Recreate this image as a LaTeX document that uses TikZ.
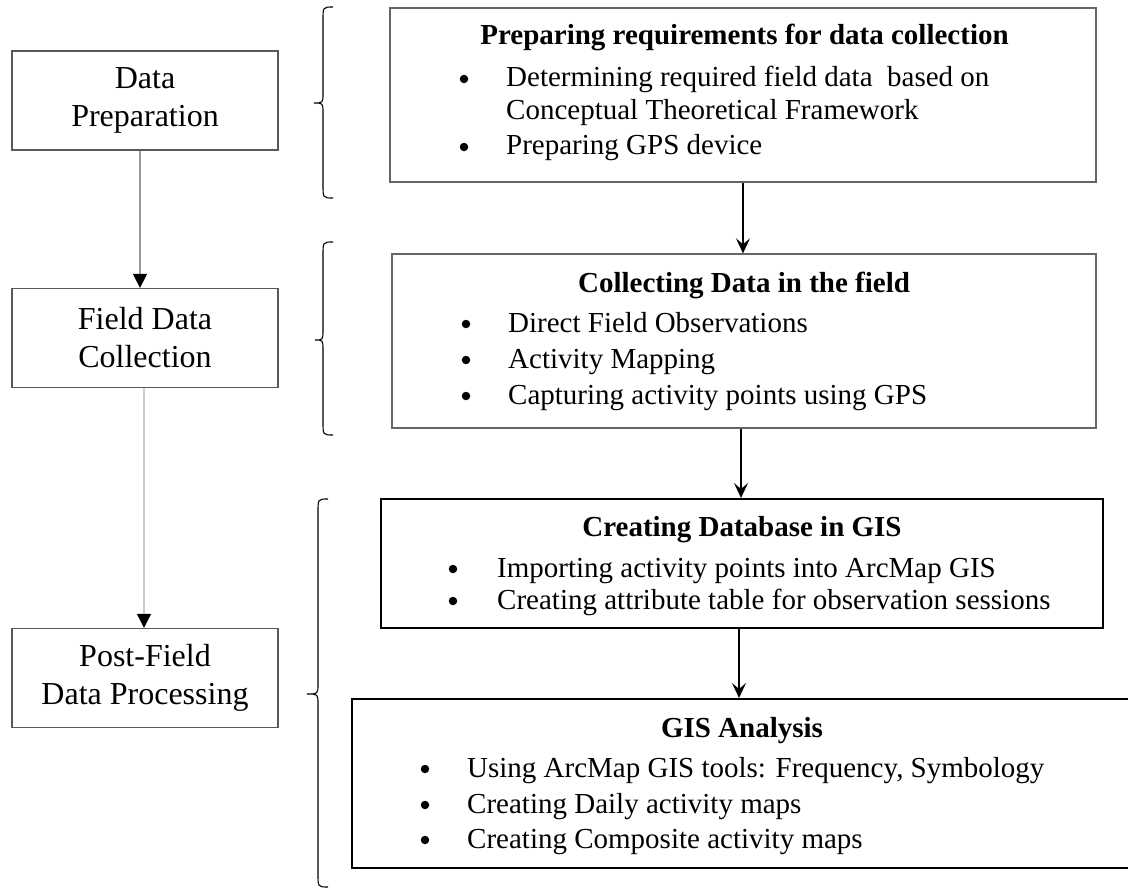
\documentclass[tikz,border=0pt]{standalone}
\usepackage{fontspec}
\setmainfont{Liberation Serif}
\usetikzlibrary{arrows.meta}
\begin{document}
\begin{tikzpicture}[x=1pt,y=-1pt,
  leftbox/.style={draw=black!65, line width=1.2pt, minimum width=266pt, minimum height=99pt,
    align=center, inner sep=0pt, font=\fontsize{32}{38}\selectfont},
  rbox/.style={draw=black!60, line width=1.3pt, inner sep=0pt},
  rboxdark/.style={draw=black, line width=2pt, inner sep=0pt},
  heading/.style={anchor=base, font=\fontsize{29}{33}\selectfont\bfseries, inner sep=0pt},
  item/.style={anchor=base west, font=\fontsize{29}{33}\selectfont, inner sep=0pt},
  dot/.style={circle, fill=black, minimum size=8.5pt, inner sep=0pt, yshift=8pt},
  flow/.style={line width=1.4pt, -{Stealth[length=15pt,width=14pt,inset=6pt]}},
  side/.style={line width=1.2pt, -{Triangle[length=14pt,width=14pt,color=black]}},
  brace/.style={line width=1.1pt}
]
\useasboundingbox (0,0) rectangle (1128,888);

% ---- stages (left column) ----
\node[leftbox] (lp)  at (145,100.5) {Data\\Preparation};
\node[leftbox] (lf)  at (145,338)   {Field Data\\Collection};
\node[leftbox] (lpf) at (145,678)   {Post-Field\\Data Processing};

\draw[side, draw=black!40] ([xshift=-5pt]lp.south) -- ([xshift=-5pt]lf.north);
\draw[side, draw=black!20] ([xshift=-1pt]lf.south) -- ([xshift=-1pt]lpf.north);

% ---- braces ----
\draw[brace] (333,7) .. controls (323,7) .. (323,20) -- (323,93)
  .. controls (323,103) .. (314,103) .. controls (323,103) .. (323,113)
  -- (323,185) .. controls (323,198) .. (333,198);
\draw[brace] (333,242) .. controls (323,242) .. (323,255) -- (323,330)
  .. controls (323,340) .. (315,340) .. controls (323,340) .. (323,350)
  -- (323,422) .. controls (323,435) .. (333,435);
\draw[brace] (328,499) .. controls (318,499) .. (318,512) -- (318,684)
  .. controls (318,694) .. (307,694) .. controls (318,694) .. (318,704)
  -- (318,874) .. controls (318,887) .. (328,887);

% ---- tasks (right column) ----
\node[rbox, minimum width=706pt, minimum height=174pt] (r1) at (743,95) {};
\node[heading] (t1) at (744.5,45) {Preparing requirements for data collection};
\node[dot] (d11) at (464,87) {};
\node[item] (i11) at (506,87) {Determining required field data~ based on};
\node[item] (i12) at (506,120) {Conceptual Theoretical Framework};
\node[dot] (d12) at (464,155) {};
\node[item] (i13) at (506,155) {Preparing GPS device};

\node[rbox, minimum width=704pt, minimum height=174pt] (r2) at (744,341) {};
\node[heading] (t2) at (744,292) {Collecting Data in the field};
\node[dot] (d21) at (466,332) {};
\node[item] (i21) at (508,332) {Direct Field Observations};
\node[dot] (d22) at (466,368) {};
\node[item] (i22) at (508,368) {Activity Mapping};
\node[dot] (d23) at (466,404) {};
\node[item] (i23) at (508,404) {Capturing activity points using GPS};

\node[rboxdark, minimum width=722pt, minimum height=129pt] (r3) at (742,563.5) {};
\node[heading] (t3) at (742,536) {Creating Database in GIS};
\node[dot] (d31) at (453,577) {};
\node[item] (i31) at (497,577) {Importing activity points into ArcMap GIS};
\node[dot] (d32) at (453,609) {};
\node[item] (i32) at (497,609) {Creating attribute table for observation sessions};

\node[rboxdark, minimum width=788pt, minimum height=169pt] (r4) at (746,783.5) {};
\node[heading] (t4) at (742,737) {GIS Analysis};
\node[dot] (d41) at (425,777) {};
\node[item] (i41) at (467,777) {Using ArcMap GIS tools: Frequency, Symbology};
\node[dot] (d42) at (425,813) {};
\node[item] (i42) at (467,813) {Creating Daily activity maps};
\node[dot] (d43) at (425,848) {};
\node[item] (i43) at (467,848) {Creating Composite activity maps};

% ---- flow between tasks ----
\draw[flow] (r1.south) -- (r1.south |- r2.north);
\draw[flow] ([xshift=-3pt]r2.south) -- ([xshift=-3pt]r2.south |- r3.north);
\draw[flow] ([xshift=-3pt]r3.south) -- ([xshift=-3pt]r3.south |- r4.north);
\end{tikzpicture}
\end{document}
